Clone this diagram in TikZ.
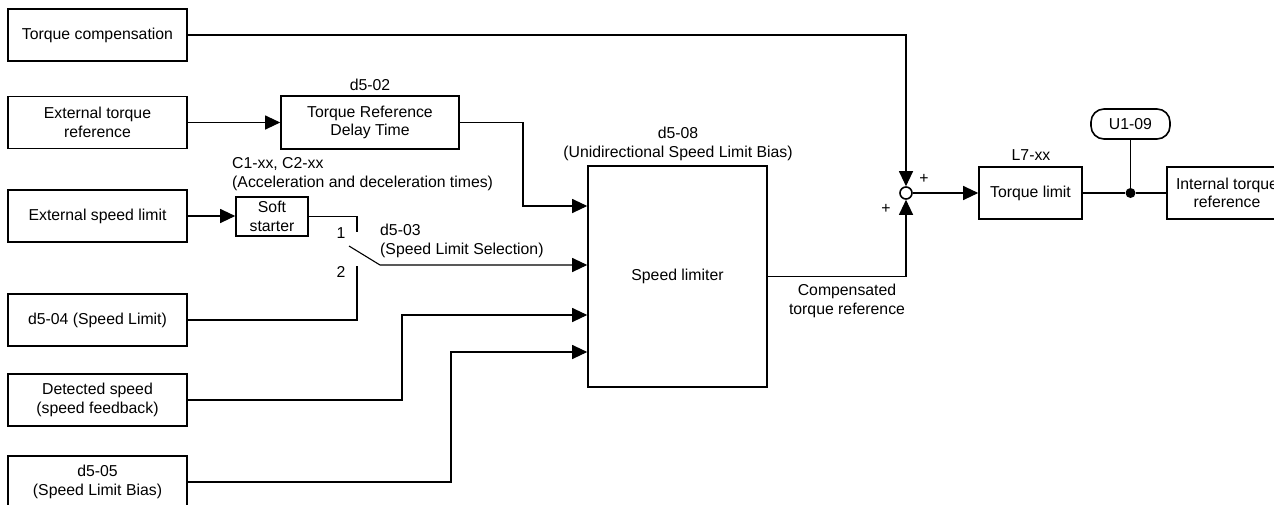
\documentclass[tikz,border=0pt]{standalone}
\usepackage{fontspec}
\setmainfont{Liberation Sans}
\usetikzlibrary{arrows.meta}
\begin{document}
\begin{tikzpicture}[x=1pt,y=-1pt,
  every node/.style={font=\fontsize{15.8}{18.5}\selectfont, text=black},
  blk/.style={draw, line width=1.6pt, align=center, inner sep=0pt, minimum width=179pt, minimum height=52pt},
  lbl/.style={inner sep=0pt, align=center},
  conn/.style={line width=1.1pt},
  arr/.style={conn, -{Triangle[length=15pt,width=14pt]}},
]
\useasboundingbox (0,0) rectangle (1274,504);
\fill[white] (0,0) rectangle (1274,504);

% left input boxes
\node[blk] (tc) at (97.5,35) {Torque compensation};
\node[blk] (etr) at (97.5,122.5) {External torque\\reference};
\node[blk] (esl) at (97.5,216) {External speed limit};
\node[blk] (d504) at (97.5,320) {d5-04 (Speed Limit)};
\node[blk] (ds) at (97.5,400) {Detected speed\\(speed feedback)};
\node[blk] (d505) at (97.5,482) {d5-05\\(Speed Limit Bias)};

% middle blocks
\node[blk, minimum width=178pt, minimum height=53pt] (delay) at (370,122.5) {Torque Reference\\Delay Time};
\node[lbl] (d502) at (370,85) {d5-02};
\node[blk, minimum width=72pt, minimum height=39pt] (soft) at (272,216.5) {Soft\\starter};
\node[lbl, anchor=west, align=left] (c1lbl) at (232,174) {C1-xx, C2-xx\\(Acceleration and deceleration times)};

\node[blk, minimum width=179pt, minimum height=221pt] (sl) at (677.5,276.5) {Speed limiter};
\node[lbl] (d508) at (678,144) {d5-08\\(Unidirectional Speed Limit Bias)};

% switch
\coordinate (c1) at (357,232);
\coordinate (c2) at (357,266);
\coordinate (lvA) at (349,246);
\coordinate (lvB) at (380,265);
\node[lbl] (one) at (341,233) {1};
\node[lbl] (two) at (341,272) {2};
\node[lbl, anchor=west, align=left] (d503) at (380,241) {d5-03\\(Speed Limit Selection)};

% right part
\node[draw, circle, line width=1.6pt, minimum size=12pt, inner sep=0pt, fill=white] (sum) at (906,193) {};
\node[lbl] (pl1) at (924,179) {+};
\node[lbl] (pl2) at (886,209) {+};
\node[lbl] (cmp) at (847,301) {Compensated\\torque reference};
\node[blk, minimum width=103pt, minimum height=52pt] (tl) at (1030.5,193) {Torque limit};
\node[lbl] (l7) at (1031,155) {L7-xx};
\node[blk, minimum width=120pt, minimum height=52pt] (itr) at (1227,193) {Internal torque\\reference};
\node[draw, line width=1.6pt, rounded corners=13pt, minimum width=79pt, minimum height=30pt, inner sep=0pt] (u109) at (1130.5,124) {U1-09};
\node[circle, fill=black, minimum size=10pt, inner sep=0pt] (dot) at (1130.5,193) {};

% connectors
\draw[arr] (tc.east) -| (sum.north);
\draw[arr] (etr.east) -- (delay.west);
\coordinate (j1) at (523,206);
\draw[arr] (delay.east) -| (j1) -- (j1 -| sl.west);
\draw[arr] (esl.east) -- (soft.west |- esl.east);
\draw[conn] (soft.east) -| (c1);
\draw[arr] (lvA) -- (lvB) -- (lvB -| sl.west);
\draw[conn] (d504.east) -| (c2);
\coordinate (j3) at (402,315);
\draw[arr] (ds.east) -| (j3) -- (j3 -| sl.west);
\coordinate (j4) at (451,352);
\draw[arr] (d505.east) -| (j4) -- (j4 -| sl.west);
\draw[arr] (sl.east) -| (sum.south);
\draw[arr] (sum.east) -- (tl.west);
\draw[conn] (tl.east) -- (dot) -- (itr.west);
\draw[conn] (dot) -- (u109.south);
\end{tikzpicture}
\end{document}
